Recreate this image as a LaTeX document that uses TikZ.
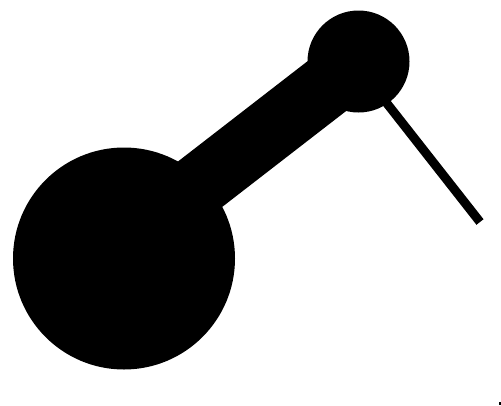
\documentclass[tikz,border=0pt]{standalone}
\begin{document}
\begin{tikzpicture}[x=1pt,y=-1pt,
  blob/.style={fill=black},
  arm/.style={draw=black,line width=63pt,line cap=butt},
  wire/.style={draw=black,line width=9pt,line cap=butt}]
\useasboundingbox (0,0) rectangle (501,405);
\coordinate (armstart) at (190,192);
\coordinate (armend) at (358,62);
\coordinate (wirestart) at (378,92);
\coordinate (wireend) at (480,222);
\draw[wire] (wirestart) -- (wireend);
\draw[arm] (armstart) -- (armend);
\fill[blob] (124,258.5) circle (111);
\fill[blob] (358.5,61.5) circle (51);
\fill[blob] (499,402) rectangle (501,405);
\end{tikzpicture}
\end{document}
